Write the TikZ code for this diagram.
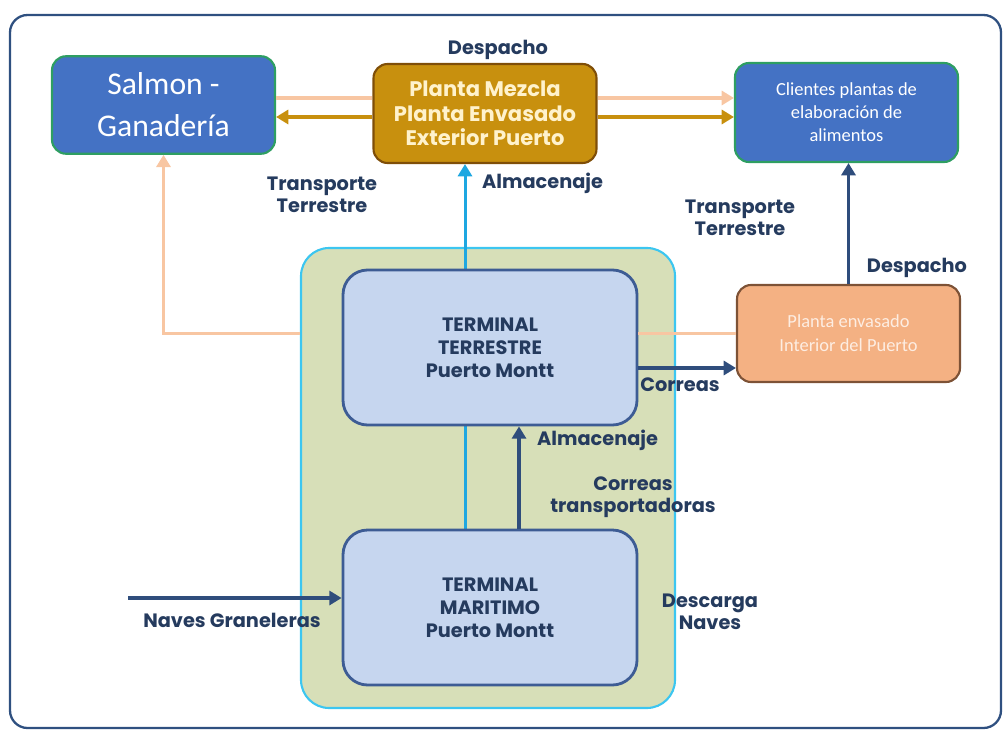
\documentclass[tikz,border=0pt]{standalone}
\usepackage{fontspec}
\setmainfont{Carlito}
\newfontfamily\gothic{Poppins}
\usetikzlibrary{positioning,arrows.meta,backgrounds}
\definecolor{boxblue}{HTML}{4472C4}
\definecolor{boxgreen}{HTML}{2E9E62}
\definecolor{goldfill}{HTML}{C8900E}
\definecolor{goldline}{HTML}{7F4E08}
\definecolor{goldtext}{HTML}{FFF2CC}
\definecolor{zonafill}{HTML}{D7DFB8}
\definecolor{zonaline}{HTML}{3CC6F0}
\definecolor{termfill}{HTML}{C6D6EF}
\definecolor{termline}{HTML}{3D5C94}
\definecolor{peachfill}{HTML}{F4B183}
\definecolor{peachline}{HTML}{F8C6A2}
\definecolor{brownline}{HTML}{7D5236}
\definecolor{peachtext}{HTML}{FDEDE2}
\definecolor{cyanline}{HTML}{1EA7E1}
\definecolor{navy}{HTML}{2F4D7C}
\definecolor{labelink}{HTML}{253B5E}
\definecolor{framecol}{HTML}{2F5080}

\begin{document}
\begin{tikzpicture}[
    box/.style={draw, line width=1.2pt, rounded corners=8pt, align=center, inner sep=2pt,
      minimum width=4.46cm, minimum height=1.95cm},
    bluebox/.style={box, fill=boxblue, draw=boxgreen, text=white},
    termbox/.style={box, line width=1.6pt, rounded corners=14pt, fill=termfill, draw=termline,
      text=labelink, font=\gothic\bfseries\fontsize{11}{13}\selectfont,
      minimum width=5.88cm, minimum height=3.1cm},
    lbl/.style={text=labelink, font=\gothic\bfseries\fontsize{11}{12.5}\selectfont,
      align=center, inner sep=1pt},
    tip/.style={-{Triangle[length=7pt,width=8pt]}},
    peach/.style={draw=peachline, line width=2.2pt},
    goldarr/.style={draw=goldfill, line width=2.2pt, tip},
    navyarr/.style={draw=navy, line width=2pt, tip},
  ]
  \useasboundingbox (0,0) rectangle (20.12,-14.64);
  \draw[framecol, line width=1.3pt, rounded corners=10pt] (0.2,-0.3) rectangle (20.02,-14.56);

  % boxes
  \node[bluebox, font=\fontsize{18}{24}\selectfont] (salmon) at (3.27,-2.10) {Salmon -\\Ganadería};
  \node[box, fill=goldfill, draw=goldline, text=goldtext, minimum height=1.98cm,
    font=\gothic\bfseries\fontsize{12}{14}\selectfont] (mezcla) at (9.70,-2.27)
    {Planta Mezcla\\Planta Envasado\\Exterior Puerto};
  \node[bluebox, minimum height=1.98cm, font=\fontsize{10.5}{13}\selectfont] (clientes) at (16.93,-2.25)
    {Clientes plantas de\\elaboración de\\alimentos};
  \node[box, fill=peachfill, draw=brownline, text=peachtext, minimum height=1.94cm,
    font=\fontsize{10.5}{13.5}\selectfont] (pint) at (16.97,-6.67)
    {Planta envasado\\Interior del Puerto};
  \node[termbox] (tterr) at (9.80,-6.95) {TERMINAL\\TERRESTRE\\Puerto Montt};
  \node[termbox] (tmar) at (9.80,-12.15) {TERMINAL\\MARITIMO\\Puerto Montt};

  \begin{pgfonlayer}{background}
    \node[draw=zonaline, fill=zonafill, line width=1.2pt, rounded corners=16pt,
      minimum width=7.48cm, minimum height=9.2cm] (zona) at (9.76,-9.56) {};
    \draw[cyanline, line width=1.7pt, tip] ([xshift=-0.5cm]tmar.north) -- ([xshift=-0.5cm]tmar.north |- mezcla.south);
  \end{pgfonlayer}

  % connectors
  \draw[peach] ([yshift=0.31cm]mezcla.west) -- ([yshift=0.31cm]mezcla.west -| salmon.east);
  \draw[peach, tip] ([yshift=0.31cm]mezcla.east) -- ([yshift=0.31cm]mezcla.east -| clientes.west);
  \draw[goldarr] ([yshift=-0.07cm]mezcla.west) -- ([yshift=-0.07cm]mezcla.west -| salmon.east);
  \draw[goldarr] ([yshift=-0.07cm]mezcla.east) -- ([yshift=-0.07cm]mezcla.east -| clientes.west);
  \draw[peach, tip] (pint.west -| zona.west) -| (salmon.south);
  \draw[peach] (pint.west) -- (pint.west -| tterr.east);
  \draw[navyarr] ([yshift=-0.41cm]tterr.east) -- ([yshift=-0.41cm]tterr.east -| pint.west);
  \draw[navyarr] (pint.north) -- (pint.north |- clientes.south);
  \draw[navyarr] ([xshift=0.58cm]tmar.north) -- ([xshift=0.58cm]tmar.north |- tterr.south);
  \coordinate (mar) at (2.56,-11.96);
  \draw[navyarr] (mar) -- (mar -| tmar.west);

  % labels
  \node[lbl] (l1) at (9.96,-1.0) {Despacho};
  \node[lbl] (l2) at (6.44,-3.9) {Transporte\\Terrestre};
  \node[lbl, anchor=west] (l3) at (9.6,-3.66) {Almacenaje};
  \node[lbl] (l4) at (14.8,-4.36) {Transporte\\Terrestre};
  \node[lbl] (l5) at (18.34,-5.36) {Despacho};
  \node[lbl] (l6) at (13.6,-7.7) {Correas};
  \node[lbl, anchor=west] (l7) at (10.7,-8.8) {Almacenaje};
  \node[lbl] (l8) at (12.66,-9.94) {Correas\\transportadoras};
  \node[lbl] (l9) at (14.2,-12.24) {Descarga\\Naves};
  \node[lbl] (l10) at (4.64,-12.4) {Naves Graneleras};
\end{tikzpicture}
\end{document}
